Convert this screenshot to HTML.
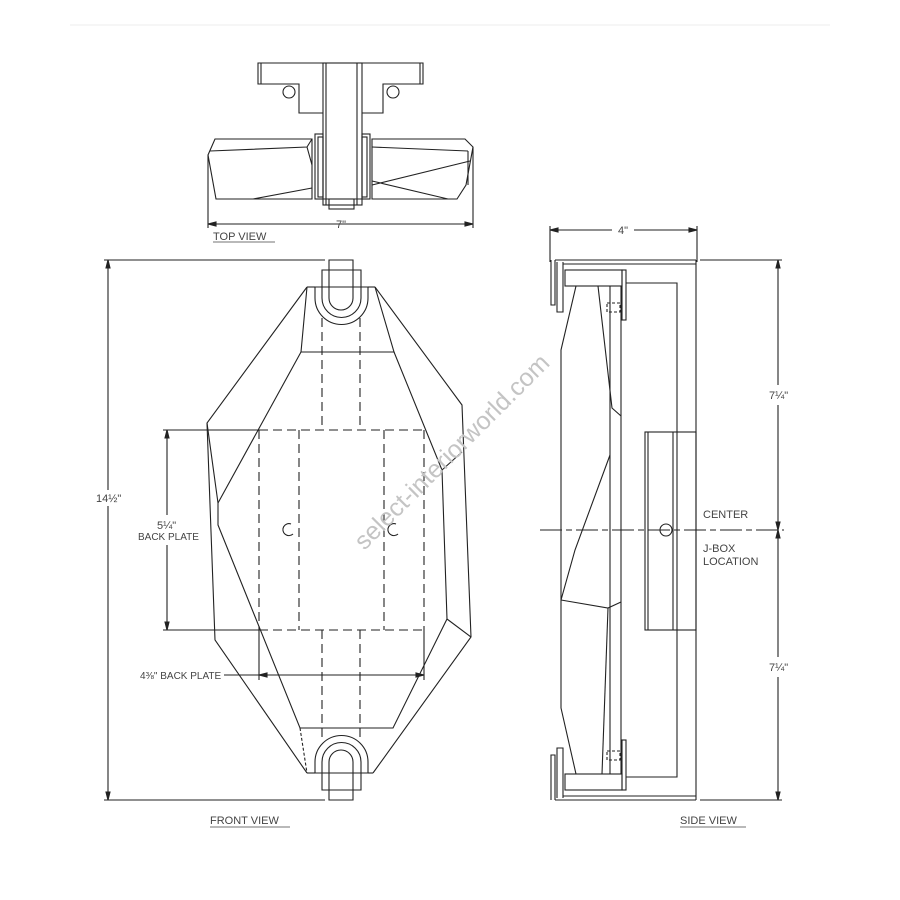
<!DOCTYPE html>
<html><head><style>body{margin:0;background:#fff}svg{display:block}text{font-family:"Liberation Sans",sans-serif;fill:#444}</style></head><body>
<svg width="900" height="900" viewBox="0 0 900 900" xmlns="http://www.w3.org/2000/svg">
<line x1="70" y1="25" x2="830" y2="25" stroke="#eee"/>
<g fill="none" stroke="#222" stroke-width="1.1">
<!-- TOP VIEW -->
<polygon points="258,63 423,63 423,84 383,84 383,113 299,113 299,84 258,84"/>
<line x1="261" y1="63" x2="261" y2="84"/><line x1="420" y1="63" x2="420" y2="84"/>
<circle cx="289" cy="92" r="6"/><circle cx="393" cy="92" r="6"/>
<rect x="323" y="63" width="39" height="142" fill="#fff"/>
<line x1="326" y1="63" x2="326" y2="205"/><line x1="357" y1="63" x2="357" y2="205"/>
<rect x="329" y="199" width="25" height="10"/>
<polygon points="215,139 312,139 312,199 216,199 208,155"/>
<polyline points="210,151 307,147 312,139"/><polyline points="253,199 312,188"/>
<line x1="307" y1="147" x2="312" y2="165"/>
<polygon points="372,139 465,139 473,147 466,185 457,199 372,199"/>
<polyline points="372,147 468,151"/><polyline points="372,185 470,161"/><polyline points="372,181 448,199"/>
<line x1="468" y1="151" x2="468" y2="185"/>
<rect x="315" y="134" width="8" height="65"/><rect x="362" y="134" width="8" height="65"/>
<rect x="318" y="137" width="5" height="60"/><rect x="362" y="137" width="5" height="60"/>
<line x1="315" y1="199" x2="370" y2="199"/>
<line x1="208" y1="155" x2="208" y2="228"/><line x1="473" y1="147" x2="473" y2="228"/>
<line x1="208" y1="224" x2="473" y2="224"/>
<polygon points="208,224 216,222 216,226" fill="#222"/><polygon points="473,224 465,222 465,226" fill="#222"/>

<!-- FRONT VIEW -->
<path d="M329,260 H353 V298 A12,12 0 0 1 329,298 Z"/>
<path d="M322,270 H361 V298 A19.5,19.5 0 0 1 322,298 Z" fill="none"/>
<path d="M315,287 H368 V298 A26.5,26.5 0 0 1 315,298 Z"/>
<path d="M329,800 H353 V762 A12,12 0 0 0 329,762 Z"/>
<path d="M322,790 H361 V762 A19.5,19.5 0 0 0 322,762 Z"/>
<path d="M315,773 H368 V762 A26.5,26.5 0 0 0 315,762 Z"/>
<polyline points="307,287 315,287"/><polyline points="368,287 375,287"/>
<polyline points="315,773 307,773"/><polyline points="368,773 373,773"/>
<polyline points="307,287 207,423 215,640 307,773"/>
<polyline points="375,287 462,405 471,637 373,773"/>
<polyline points="307,287 301,352 394,352 375,287"/>
<polyline points="301,352 218,503"/><polyline points="207,423 218,503 218,525 300,728 393,728 447,619 471,637"/>
<polyline points="394,352 442,470 447,619"/><line x1="442" y1="470" x2="462" y2="452"/>
<line x1="300" y1="728" x2="307" y2="773" stroke-dasharray="3,2"/>
<g stroke-dasharray="9,5">
<line x1="322" y1="318" x2="322" y2="430"/><line x1="360" y1="318" x2="360" y2="430"/>
<line x1="322" y1="630" x2="322" y2="742"/><line x1="360" y1="630" x2="360" y2="742"/>
<line x1="259" y1="430" x2="424" y2="430"/><line x1="259" y1="630" x2="424" y2="630"/>
<line x1="259" y1="430" x2="259" y2="630"/><line x1="424" y1="430" x2="424" y2="630"/>
<line x1="299" y1="430" x2="299" y2="630"/><line x1="384" y1="430" x2="384" y2="630"/>
</g>
<path d="M291,524 A6,6 0 1 0 293,534"/><path d="M396,524 A6,6 0 1 0 398,534"/>
<!-- dims front -->
<line x1="104" y1="260" x2="325" y2="260"/><line x1="104" y1="800" x2="325" y2="800"/>
<line x1="108" y1="260" x2="108" y2="490"/><line x1="108" y1="506" x2="108" y2="800"/>
<polygon points="108,260 106,268 110,268" fill="#222"/><polygon points="108,800 106,792 110,792" fill="#222"/>
<line x1="163" y1="430" x2="259" y2="430"/><line x1="163" y1="630" x2="259" y2="630"/>
<line x1="167" y1="430" x2="167" y2="515"/><line x1="167" y1="545" x2="167" y2="630"/>
<polygon points="167,430 165,438 169,438" fill="#222"/><polygon points="167,630 165,622 169,622" fill="#222"/>
<line x1="259" y1="630" x2="259" y2="680"/><line x1="424" y1="630" x2="424" y2="680"/>
<line x1="224" y1="675" x2="424" y2="675"/>
<polygon points="259,675 267,673 267,677" fill="#222"/><polygon points="424,675 416,673 416,677" fill="#222"/>

<!-- SIDE VIEW -->
<line x1="550" y1="226" x2="550" y2="262"/><line x1="697" y1="226" x2="697" y2="262"/>
<line x1="550" y1="230" x2="612" y2="230"/><line x1="634" y1="230" x2="697" y2="230"/>
<polygon points="550,230 558,228 558,232" fill="#222"/><polygon points="697,230 689,228 689,232" fill="#222"/>
<line x1="555" y1="260" x2="696" y2="260"/><line x1="563" y1="264" x2="696" y2="264"/>
<line x1="696" y1="260" x2="696" y2="800"/>
<line x1="555" y1="800" x2="696" y2="800"/><line x1="563" y1="796" x2="696" y2="796"/>
<polyline points="551,260 551,305 555,305 555,260"/><polyline points="557,262 557,312 563,312 563,262"/>
<polyline points="551,800 551,755 555,755 555,800"/><polyline points="557,798 557,748 563,748 563,798"/>
<rect x="565" y="270" width="57" height="16"/><rect x="622" y="270" width="4" height="50"/>
<rect x="565" y="774" width="57" height="16"/><rect x="622" y="740" width="4" height="50"/>
<polyline points="626,283 677,283 677,777 626,777"/>
<rect x="645" y="432" width="51" height="198"/><line x1="648" y1="432" x2="648" y2="630"/><line x1="673" y1="432" x2="673" y2="630"/>
<polyline points="576,286 561,350 561,708 576,774"/>
<line x1="610" y1="286" x2="610" y2="774"/><line x1="621" y1="286" x2="621" y2="774"/>
<polyline points="598,286 612,408 621,416"/>
<polyline points="610,455 575,550 561,600"/>
<polyline points="561,600 608,608 621,602"/>
<polyline points="608,608 602,774"/>
<rect x="607" y="303" width="13" height="9" stroke-dasharray="3,2"/>
<rect x="607" y="751" width="13" height="9" stroke-dasharray="3,2"/>
<circle cx="666" cy="530" r="6"/>
<line x1="540" y1="530" x2="784" y2="530" stroke-dasharray="22,4,6,4"/>
<line x1="700" y1="260" x2="782" y2="260"/><line x1="700" y1="800" x2="782" y2="800"/>
<line x1="778" y1="260" x2="778" y2="385"/><line x1="778" y1="405" x2="778" y2="657"/><line x1="778" y1="677" x2="778" y2="800"/>
<polygon points="778,260 776,268 780,268" fill="#222"/><polygon points="778,800 776,792 780,792" fill="#222"/>
<polygon points="778,530 776,522 780,522" fill="#222"/><polygon points="778,530 776,538 780,538" fill="#222"/>
</g>
<g font-size="11">
<text x="336" y="228">7"</text>
<text x="213" y="240">TOP VIEW</text>
<text x="96" y="502">14½"</text>
<text x="157" y="529">5¼"</text>
<text x="138" y="540" font-size="10">BACK PLATE</text>
<text x="140" y="679" font-size="10">4⅜" BACK PLATE</text>
<text x="210" y="824">FRONT VIEW</text>
<text x="618" y="234">4"</text>
<text x="769" y="399">7¼"</text>
<text x="769" y="671">7¼"</text>
<text x="703" y="518">CENTER</text>
<text x="703" y="552">J-BOX</text>
<text x="703" y="565">LOCATION</text>
<text x="680" y="824">SIDE VIEW</text>
</g>
<g stroke="#444" stroke-width="0.8">
<line x1="213" y1="242" x2="275" y2="242"/><line x1="210" y1="827" x2="290" y2="827"/><line x1="680" y1="827" x2="746" y2="827"/>
</g>
<text x="452" y="460" font-size="25" style="fill:#c4c4c4" text-anchor="middle" transform="rotate(-45 452 452)">select-interiorworld.com</text>
</svg>
</body></html>
